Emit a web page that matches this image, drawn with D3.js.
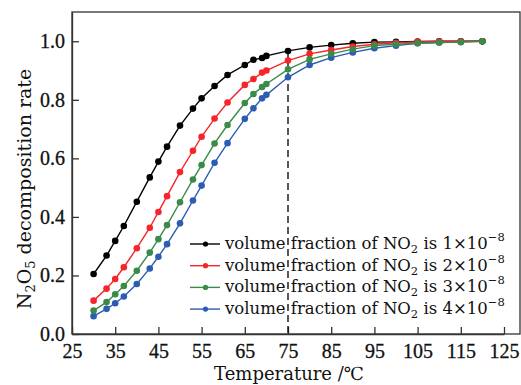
<!DOCTYPE html>
<html>
<head>
<meta charset="utf-8">
<script src="https://cdn.jsdelivr.net/npm/d3@7"></script>
<style>
  body { margin: 0; background: #fff; }
  text { fill: #111; }
</style>
</head>
<body>
<script>
// temperatures (deg C) where the points were computed
var temps = [30,33,35,37,40,43,45,47,50,53,55,58,61,65,67,69,70,75,80,85,90,95,100,105,110,115,120];

// decomposition rate for each NO2 volume fraction
var rate1 = [.205,.268,.318,.369,.452,.535,.589,.640,.712,.770,.805,.847,.885,.919,.937,.943,.950,.967,.979,.987,.993,.997,.998,.999,1.0,1.0,1.0];
var rate2 = [.114,.155,.188,.228,.293,.363,.417,.471,.553,.626,.674,.736,.791,.851,.871,.893,.900,.934,.957,.970,.982,.990,.995,.998,.999,1.0,1.0];
var rate3 = [.080,.109,.136,.164,.216,.278,.324,.372,.450,.528,.577,.651,.714,.789,.820,.844,.854,.904,.938,.957,.973,.985,.990,.993,.996,.997,1.0];
var rate4 = [.061,.086,.105,.128,.171,.224,.264,.307,.378,.456,.507,.585,.652,.735,.771,.805,.817,.877,.919,.944,.962,.976,.985,.993,.996,.998,1.0];

var fractions = ["1", "2", "3", "4"];
var colors = ["#000000", "#f5252a", "#3a8a48", "#2c5db3"];

var xTicks = [25,35,45,55,65,75,85,95,105,115,125];
var yTicks = [0.0,0.2,0.4,0.6,0.8,1.0];
var dropTemp = 75;

var W = 521, H = 385;
var pl = 72, pr = 520, pt = 12, pb = 334;
var numFont = "'Liberation Serif', serif", wordFont = "'DejaVu Serif', serif";

var x = d3.scaleLinear().domain([25,125]).range([pl, 504]);
var y = d3.scaleLinear().domain([0,1.1]).range([pb, pt]);

var svg = d3.select("body").append("svg")
  .attr("width", W).attr("height", H);

// frame
svg.append("rect")
  .attr("x", pl).attr("y", pt)
  .attr("width", pr-pl).attr("height", pb-pt)
  .attr("fill", "none").attr("stroke", "#333").attr("stroke-width", 1.3);

// axes, ticks pointing inward
var xAxis = svg.append("g").attr("transform", "translate(0," + pb + ")")
  .call(d3.axisBottom(x).tickValues(xTicks).tickSizeInner(-7).tickSizeOuter(0).tickPadding(10));
var yAxis = svg.append("g").attr("transform", "translate(" + pl + ",0)")
  .call(d3.axisLeft(y).tickValues(yTicks).tickFormat(d3.format(".1f")).tickSizeInner(-7).tickSizeOuter(0).tickPadding(7));
[xAxis, yAxis].forEach(function (g) {
  g.attr("font-family", null).attr("font-size", null);
  g.select(".domain").attr("stroke", "#333").attr("stroke-width", 1.3);
  g.selectAll(".tick line").attr("stroke", "#333").attr("stroke-width", 1.3);
  g.selectAll(".tick text")
    .style("font-family", numFont).style("font-size", "20px")
    .attr("fill", "#111").attr("stroke", "#111").attr("stroke-width", 0.3);
});

// dashed drop line at 75 C
var dropVal = rate1[temps.indexOf(dropTemp)];
svg.append("line")
  .attr("x1", x(dropTemp)).attr("x2", x(dropTemp))
  .attr("y1", y(dropVal)).attr("y2", pb)
  .attr("stroke", "#111").attr("stroke-width", 1.4).attr("stroke-dasharray", "7,4");

var series = [rate1, rate2, rate3, rate4].map(function (vals, i) {
  return { frac: fractions[i], color: colors[i],
    pts: vals.map(function (v, j) { return [temps[j], v]; }) };
});

var line = d3.line().x(function (d) { return x(d[0]); }).y(function (d) { return y(d[1]); });

// draw blue first so green sits on top at the plateau
[3, 0, 1, 2].forEach(function (i) {
  var s = series[i];
  var g = svg.append("g");
  g.append("path").attr("d", line(s.pts))
    .attr("fill", "none").attr("stroke", s.color).attr("stroke-width", 1.4);
  g.selectAll("circle").data(s.pts).enter().append("circle")
    .attr("cx", function (d) { return x(d[0]); })
    .attr("cy", function (d) { return y(d[1]); })
    .attr("r", 3.3).attr("fill", s.color);
});

// legend
var leg = svg.append("g");
series.forEach(function (s, i) {
  var cy = 244 + i*21.7;
  leg.append("line").attr("x1", 190).attr("x2", 220).attr("y1", cy).attr("y2", cy)
    .attr("stroke", s.color).attr("stroke-width", 1.4);
  leg.append("circle").attr("cx", 205.5).attr("cy", cy).attr("r", 2.6).attr("fill", s.color);
  var t = leg.append("text").attr("x", 225).attr("y", cy + 5)
    .style("font-family", wordFont).style("font-size", "16.5px");
  t.append("tspan").text("volume fraction of NO");
  t.append("tspan").attr("dy", 4).style("font-size", "11.5px").text("2");
  t.append("tspan").attr("dy", -4).text(" is " + s.frac + "\u00d710");
  t.append("tspan").attr("dy", -8).style("font-size", "11.5px").text("\u22128");
});

// axis titles
svg.append("text")
  .attr("x", 289).attr("y", 380)
  .attr("text-anchor", "middle")
  .style("font-family", wordFont).style("font-size", "18px")
  .text("Temperature /\u2103");

var yt = svg.append("text")
  .attr("transform", "translate(31,189) rotate(-90)")
  .attr("text-anchor", "middle")
  .style("font-family", wordFont).style("font-size", "19px");
yt.append("tspan").text("N");
yt.append("tspan").attr("dy", 4).style("font-size", "13px").text("2");
yt.append("tspan").attr("dy", -4).text("O");
yt.append("tspan").attr("dy", 4).style("font-size", "13px").text("5");
yt.append("tspan").attr("dy", -4).text(" decomposition rate");
</script>
</body>
</html>
